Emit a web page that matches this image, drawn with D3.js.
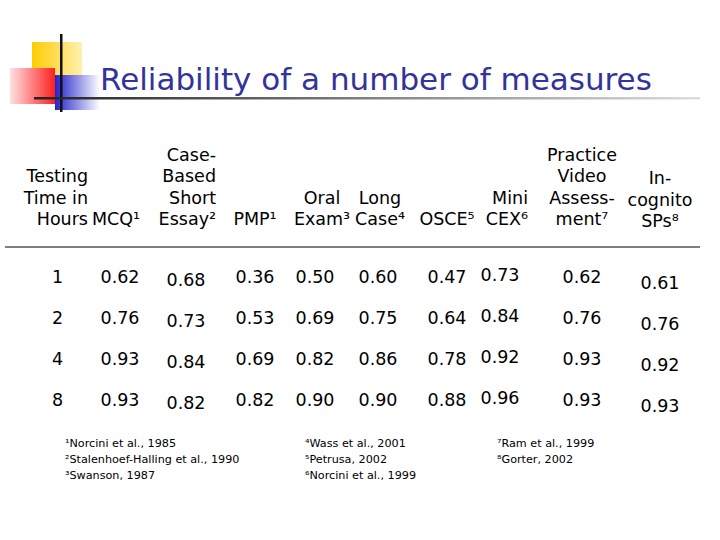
<!DOCTYPE html>
<html><head><meta charset="utf-8">
<script src="https://cdn.jsdelivr.net/npm/d3@7"></script>
<style>body{margin:0;background:#fff}</style></head>
<body><svg id="c" width="720" height="540"></svg>
<script>
const title = "Reliability of a number of measures";
const hours = ["1","2","4","8"];
const headers = [
  ["Case-","Based","Short","Essay²"], ["PMP¹"], ["Oral","Exam³"], ["Long","Case⁴"],
  ["OSCE⁵"], ["Mini","CEX⁶"], ["Practice","Video","Assess-","ment⁷"], ["In-","cognito","SPs⁸"]
];
const mcq = [0.62,0.76,0.93,0.93];
const essay = [0.68,0.73,0.84,0.82];
const pmp = [0.36,0.53,0.69,0.82];
const oral = [0.50,0.69,0.82,0.90];
const longCase = [0.60,0.75,0.86,0.90];
const osce = [0.47,0.64,0.78,0.88];
const miniCex = [0.73,0.84,0.92,0.96];
const practice = [0.62,0.76,0.93,0.93];
const incognito = [0.61,0.76,0.92,0.93];
const footnotes = [
  ["¹Norcini et al., 1985","²Stalenhoef-Halling et al., 1990","³Swanson, 1987"],
  ["⁴Wass et al., 2001","⁵Petrusa, 2002","⁶Norcini et al., 1999"],
  ["⁷Ram et al., 1999","⁸Gorter, 2002"]
];

const svg = d3.select("#c");
const F = "'DejaVu Sans', sans-serif";
const defs = svg.append("defs");
const g1 = defs.append("linearGradient").attr("id","yel").attr("x1",0).attr("x2",1);
g1.append("stop").attr("offset",0).attr("stop-color","#ffcc00");
g1.append("stop").attr("offset",1).attr("stop-color","#fff0b0");
const g2 = defs.append("linearGradient").attr("id","red").attr("x1",1).attr("x2",0);
g2.append("stop").attr("offset",0).attr("stop-color","#ff2020");
g2.append("stop").attr("offset",1).attr("stop-color","#ffe0e0");
const g3 = defs.append("linearGradient").attr("id","blu").attr("x1",0).attr("x2",1);
g3.append("stop").attr("offset",0).attr("stop-color","#2222cc");
g3.append("stop").attr("offset",1).attr("stop-color","#ffffff");
const g4 = defs.append("linearGradient").attr("id","ln").attr("x1",0).attr("x2",1);
g4.append("stop").attr("offset",0).attr("stop-color","#222");
g4.append("stop").attr("offset",1).attr("stop-color","#ddd");

svg.append("rect").attr("x",32).attr("y",42).attr("width",50).attr("height",45).attr("fill","url(#yel)");
svg.append("rect").attr("x",55).attr("y",75).attr("width",45).attr("height",35).attr("fill","url(#blu)");
svg.append("rect").attr("x",10).attr("y",68).attr("width",45).attr("height",36).attr("fill","url(#red)");
svg.append("rect").attr("x",60).attr("y",34).attr("width",2.5).attr("height",78).attr("fill","#111");
svg.append("rect").attr("x",34).attr("y",97).attr("width",666).attr("height",2.5).attr("fill","url(#ln)");
svg.append("text").attr("x",100).attr("y",90).attr("font-family",F).attr("font-size",31)
  .attr("fill","#333399").text(title);

const cols = [120,186,255,315,378,447,500,582,660];
const series = [mcq,essay,pmp,oral,longCase,osce,miniCex,practice,incognito];
const dy = [0,3,0,0,0,0,-2,0,6];
const y = d3.scalePoint().domain(hours).range([283,406]);
const T = (x,yy,s,anchor,size) => svg.append("text").attr("x",x).attr("y",yy)
  .attr("font-family",F).attr("font-size",size||17.5).attr("text-anchor",anchor||"middle").attr("fill","#000").text(s);

["Testing","Time in","Hours"].forEach((s,i)=>T(88,182+i*21.5,s,"end"));
T(116,225,"MCQ¹");
const hx = [[216,"end"],[255,"middle"],[322,"middle"],[380,"middle"],[447,"middle"],[528,"end"],[582,"middle"],[660,"middle"]];
headers.forEach((h,i)=>{
  const n=h.length, off = i===7?2:0;
  h.forEach((s,j)=>T(hx[i][0],225+off-(n-1-j)*21.5,s,hx[i][1]));
});
svg.append("line").attr("x1",5).attr("x2",700).attr("y1",247).attr("y2",247).attr("stroke","#000").attr("stroke-width",1);

hours.forEach(h=>T(52,y(h),h,"start"));
series.forEach((s,c)=>s.forEach((v,r)=>T(cols[c],y(hours[r])+dy[c],v.toFixed(2))));

const fx=[65,305,497];
footnotes.forEach((f,i)=>f.forEach((s,j)=>T(fx[i],447+j*16,s,"start",11.2)));
</script></body></html>
